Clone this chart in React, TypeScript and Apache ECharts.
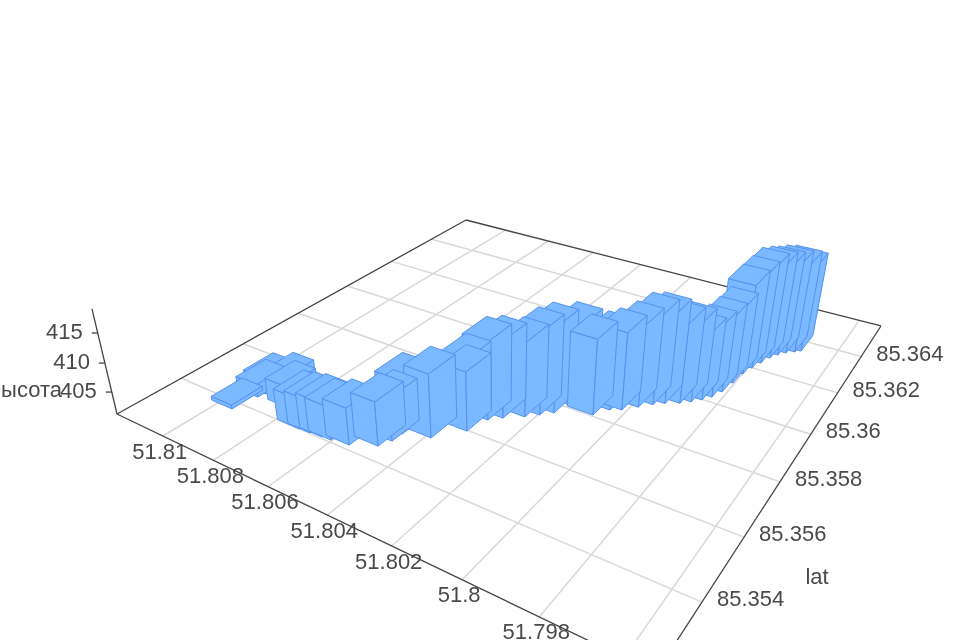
import React, { useEffect, useRef } from "react";
import * as echarts from "echarts";

const lonTicks = [51.81, 51.808, 51.806, 51.804, 51.802, 51.8, 51.798];
const lonGridOnly = [51.796];
const latTicks = [85.354, 85.356, 85.358, 85.36, 85.362, 85.364];
const altTicks = [405, 410, 415];
const altName = "Высота";
const latName = "lat";

const lonValues = [51.80984,51.80968,51.8096,51.80901,51.80852,51.80754,51.80716,51.80675,51.80645,51.80589,51.80521,51.80504,51.80502,51.80425,51.8037,51.80362,51.80344,51.80314,51.80266,51.80236,51.80208,51.80164,51.80111,51.80083,51.80055,51.80022,51.79993,51.79967,51.79932,51.79908,51.79886,51.79868,51.79854,51.79846,51.7984,51.79829,51.79817,51.79804,51.7979,51.79773,51.79752,51.79738];
const latValues = [85.35422,85.3549,85.3551,85.35531,85.35496,85.35448,85.3545,85.35453,85.35455,85.35463,85.35494,85.35525,85.35558,85.35581,85.35655,85.35645,85.35706,85.35731,85.35762,85.35787,85.35812,85.35859,85.35853,85.35892,85.35907,85.35938,85.35966,85.35985,85.36005,85.36025,85.36046,85.3607,85.36104,85.36155,85.36208,85.36246,85.36281,85.36317,85.36342,85.36363,85.3638,85.36393];
const altValues = [401.8,403.3,404,404.4,404.9,406.5,406.8,407.1,406.8,407.4,408.6,408.4,410.3,411.9,412.7,411.2,414.4,414.3,413.9,415.3,415.8,415.2,414.1,413.9,414.4,415.2,416.3,416.2,414.8,414.4,412.5,413.2,413.8,414.2,416.8,417.5,418.2,417.7,417.3,417.2,417,416.5];

const lonDomain = [51.7953, 51.81195];
const latDomain = [85.35216, 85.3659];
const altDomain = [401.1, 418.9];
const halfLon = 0.000415, halfLat = 0.00048;

const gridW = 900, gridH = 600;
function project(u: number, v: number, h: number) {
  const w = 1 - 0.3 * u + 0.4615 * v - 0.0616 * h;
  return [(117 + 342.2 * u + 564.06 * v - 30.68 * h) / w, (414 + 57.1 * u - 92.47 * v - 124.2 * h) / w];
}
const hOf = (a: number) => (a - altDomain[0]) / (altDomain[1] - altDomain[0]);
const uv = (api: any, lon: number, lat: number) => {
  const p = api.coord([lon, lat]);
  return [p[0] / gridW, p[1] / gridH];
};
const depth = (lon: number, lat: number) => {
  const u = (lonDomain[1] - lon) / (lonDomain[1] - lonDomain[0]);
  const v = (lat - latDomain[0]) / (latDomain[1] - latDomain[0]);
  return 1 - 0.3 * u + 0.4615 * v;
};

const axisColor = "#444", gridColor = "#d8d8d8", textColor = "#4a4a4a";
const font = '22px "Liberation Sans", Arial, sans-serif';

export default function App() {
  const ref = useRef<HTMLDivElement>(null);
  useEffect(() => {
    const chart = echarts.init(ref.current!, undefined, { renderer: "svg" });
    const poly = (pts: number[][]) => ({ type: "polygon", shape: { points: pts }, style: { fill: "#7AB8FF", stroke: "#5592EE", lineWidth: 1, lineJoin: "round" } });
    const line = (a: number[], b: number[], c: string, w: number) => ({ type: "line", shape: { x1: a[0], y1: a[1], x2: b[0], y2: b[1] }, style: { stroke: c, lineWidth: w } });
    const text = (t: string, x: number, y: number, align: string) => ({ type: "text", style: { text: t, x, y, align, verticalAlign: "middle", font, fill: textColor } });
    const barData = lonValues.map((lon, i) => [lon, latValues[i], altValues[i]]).sort((a, b) => depth(b[0], b[1]) - depth(a[0], a[1]));
    chart.setOption({
      animation: false,
      grid: { left: 0, top: 0, width: gridW, height: gridH, show: false },
      xAxis: { type: "value", min: lonDomain[0], max: lonDomain[1], inverse: true, show: false },
      yAxis: { type: "value", min: latDomain[0], max: latDomain[1], inverse: true, show: false },
      series: [
        {
          type: "custom", coordinateSystem: "cartesian2d", silent: true,
          data: [...lonTicks, ...lonGridOnly].map((t) => [t, latDomain[0]]),
          renderItem: (_: any, api: any) => {
            const lon = api.value(0);
            const [u0, v0] = uv(api, lon, latDomain[0]);
            const [u1, v1] = uv(api, lon, latDomain[1]);
            const a = project(u0, v0, 0), b = project(u1, v1, 0);
            const ch: any[] = [line(a, b, gridColor, 1.5)];
            if (lonTicks.includes(lon)) ch.push(text(String(lon), a[0] - 3, a[1] + 15, "center"));
            return { type: "group", children: ch };
          },
        },
        {
          type: "custom", coordinateSystem: "cartesian2d", silent: true,
          data: latTicks.map((t) => [lonDomain[0], t]),
          renderItem: (_: any, api: any) => {
            const lat = api.value(1);
            const [u0, v0] = uv(api, lonDomain[0], lat);
            const [u1, v1] = uv(api, lonDomain[1], lat);
            const a = project(u0, v0, 0), b = project(u1, v1, 0);
            return { type: "group", children: [line(a, b, gridColor, 1.5), text(String(lat), a[0] + 15, a[1] - 3.5, "left")] };
          },
        },
        {
          type: "custom", coordinateSystem: "cartesian2d", silent: true,
          data: [[lonDomain[0], latDomain[0]]],
          renderItem: () => {
            const C = [project(0, 0, 0), project(0, 1, 0), project(1, 1, 0), project(1, 0, 0)];
            const top = project(0, 0, 1);
            const ch: any[] = [
              line(C[0], C[1], axisColor, 1.3), line(C[1], C[2], axisColor, 1.3),
              line(C[2], C[3], axisColor, 1.3), line(C[3], C[0], axisColor, 1.3),
              line(C[0], top, axisColor, 1.3),
            ];
            altTicks.forEach((t) => {
              const p = project(0, 0, hOf(t));
              ch.push(line(p, [p[0] - 6, p[1]], axisColor, 1.3));
              ch.push(text(String(t), p[0] - 15, p[1] - 2, "right"));
            });
            ch.push(text(altName, 62, 389, "right"));
            ch.push(text(latName, 817, 576, "center"));
            return { type: "group", children: ch };
          },
        },
        {
          type: "custom", coordinateSystem: "cartesian2d", silent: true,
          data: barData,
          renderItem: (_: any, api: any) => {
            const lon = api.value(0), lat = api.value(1), h = hOf(api.value(2));
            const [u0, v0] = uv(api, lon + halfLon, lat - halfLat);
            const [u1, v1] = uv(api, lon - halfLon, lat + halfLat);
            return {
              type: "group",
              children: [
                poly([project(u0, v0, 0), project(u1, v0, 0), project(u1, v0, h), project(u0, v0, h)]),
                poly([project(u1, v0, 0), project(u1, v1, 0), project(u1, v1, h), project(u1, v0, h)]),
                poly([project(u0, v0, h), project(u1, v0, h), project(u1, v1, h), project(u0, v1, h)]),
              ],
            };
          },
        },
      ],
    });
    return () => chart.dispose();
  }, []);
  return <div ref={ref} style={{ position: "fixed", left: 0, top: 0, width: 960, height: 640, filter: "blur(0.45px)" }} />;
}
